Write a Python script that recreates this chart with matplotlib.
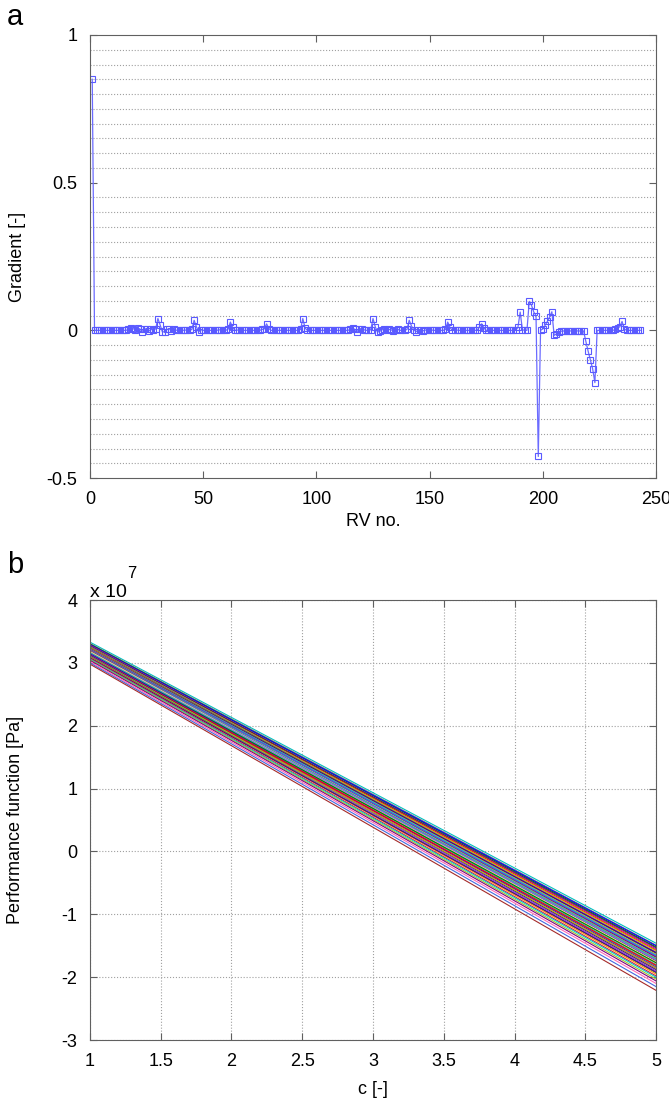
import matplotlib.pyplot as plt
from matplotlib.ticker import MultipleLocator

plt.rcParams['font.family'] = ['Liberation Sans', 'DejaVu Sans']
plt.rcParams['axes.unicode_minus'] = False

# panel a: gradient per random variable
gradient = [
    0.85, 0.0, 0.0, 0.0, 0.0, 0.0, 0.0, 0.0, 0.0, 0.0,
    0.0, 0.0, 0.0, 0.0, 0.0, 0.0, 0.004, 0.009, 0.006, 0.002,
    0.007, 0.005, -0.004, 0.004, 0.006, -0.002, 0.003, 0.001, 0.005, 0.04,
    0.018, -0.006, -0.004, 0.003, 0.006, -0.003, 0.003, 0.0, 0.002, 0.0,
    0.0, 0.001, 0.0, 0.0, 0.003, 0.034, 0.012, -0.005, 0.002, 0.0,
    0.001, 0.0, 0.0, 0.0, 0.0, 0.0, 0.002, 0.0, 0.001, 0.0,
    0.004, 0.028, 0.01, 0.0, 0.001, 0.0, 0.0, 0.0, 0.0, 0.0,
    0.0, 0.0, 0.0, 0.0, 0.0, 0.003, 0.005, 0.022, 0.006, 0.0,
    0.0, 0.0, 0.0, 0.0, 0.0, 0.0, 0.0, 0.0, 0.0, 0.0,
    0.0, 0.0, 0.003, 0.04, 0.008, 0.0, 0.0, 0.0, 0.0, 0.0,
    0.0, 0.0, 0.0, 0.0, 0.0, 0.0, 0.0, 0.0, 0.0, 0.0,
    0.0, 0.0, 0.0, 0.0, 0.004, 0.008, 0.003, -0.004, 0.005, 0.006,
    0.002, 0.0, 0.0, 0.002, 0.04, 0.012, -0.006, -0.003, 0.002, 0.004,
    0.0, 0.003, 0.002, -0.002, 0.0, 0.003, 0.0, 0.0, 0.0, 0.003,
    0.034, 0.015, 0.002, -0.004, 0.0, 0.002, -0.002, 0.001, 0.0, 0.0,
    0.001, 0.0, 0.0, 0.0, 0.0, 0.0, 0.003, 0.028, 0.01, 0.0,
    0.0, 0.001, 0.0, 0.0, 0.0, 0.0, 0.0, 0.0, 0.0, 0.0,
    0.0, 0.012, 0.022, 0.008, 0.0, 0.0, 0.0, 0.0, 0.0, 0.0,
    0.0, 0.0, 0.0, 0.0, 0.0, 0.0, 0.0, 0.0, 0.01, 0.062,
    0.002, 0.0, 0.0, 0.098, 0.085, 0.062, 0.05, -0.427, 0.0, 0.005,
    0.017, 0.03, 0.045, 0.063, -0.017, -0.012, -0.004, -0.003, -0.002, -0.003,
    -0.002, -0.002, -0.002, -0.003, -0.002, -0.002, -0.003, -0.002, -0.037, -0.07,
    -0.1, -0.13, -0.177, 0.0, 0.0, 0.0, 0.0, 0.0, 0.0, 0.002,
    0.0, 0.003, 0.008, 0.012, 0.03, 0.005, 0.0, 0.0, 0.0, 0.0,
    0.0, 0.0, 0.0,
]
rv_no = list(range(1, len(gradient) + 1))

# panel b: performance function lines (x 1e7 Pa) at c = 1 and c = 5
c_vals = [1.0, 5.0]
g_start = [3.33, 3.31, 3.30, 3.29, 3.28, 3.27, 3.27, 3.26, 3.25, 3.25,
           3.24, 3.23, 3.23, 3.22, 3.21, 3.21, 3.20, 3.20, 3.19, 3.18,
           3.18, 3.17, 3.16, 3.16, 3.15, 3.14, 3.14, 3.13, 3.12, 3.12,
           3.11, 3.10, 3.10, 3.09, 3.08, 3.07, 3.06, 3.05, 3.04, 3.02,
           3.00, 2.98]
g_end = [-1.46, -1.49, -1.52, -1.50, -1.55, -1.57, -1.53, -1.60, -1.58, -1.62,
         -1.64, -1.61, -1.67, -1.65, -1.70, -1.68, -1.72, -1.66, -1.74, -1.71,
         -1.76, -1.78, -1.73, -1.80, -1.82, -1.77, -1.84, -1.86, -1.81, -1.88,
         -1.90, -1.85, -1.93, -1.95, -1.92, -1.98, -2.00, -2.03, -2.06, -2.10,
         -2.15, -2.21]
line_colors = ['#00bfbf', '#808080', '#008000', '#0000ff', '#bf00bf', '#ff0000',
               '#404040', '#8a2be2', '#bfbf00', '#2e8b57', '#ff8c00', '#4b0082',
               '#dc143c', '#00ced1', '#9acd32', '#800080', '#ff69b4', '#4169e1',
               '#a52a2a', '#20b2aa', '#f0e68c', '#ffa07a', '#7b68ee']

fig = plt.figure(figsize=(6.69, 11.03), dpi=100)
grid_kw = dict(color='#a0a0a0', linestyle=':', linewidth=0.8)

# ---- a ----
ax1 = fig.add_axes([0.1345, 0.5666, 0.8461, 0.4017])
ax1.plot(rv_no, gradient, color='#6b6bff', linewidth=0.9, marker='s',
         markersize=4, markerfacecolor='none', markeredgecolor='#5a5aff',
         markeredgewidth=0.8)
ax1.set_xlim(0, 250)
ax1.set_ylim(-0.5, 1)
ax1.set_yticks([-0.5, 0, 0.5, 1])
ax1.set_yticklabels(['-0.5', '0', '0.5', '1'])
ax1.yaxis.set_minor_locator(MultipleLocator(0.05))
ax1.grid(True, which='minor', axis='y', **grid_kw)
ax1.tick_params(which='minor', length=0)
ax1.set_xlabel('RV no.', fontsize=13)
ax1.set_ylabel('Gradient [-]', fontsize=13)
ax1.yaxis.set_label_coords(-0.113, 0.5)

# ---- b ----
ax2 = fig.add_axes([0.1345, 0.0571, 0.8461, 0.3989])
for i in range(len(g_start)):
    ax2.plot(c_vals, [g_start[i], g_end[i]],
             color=line_colors[i % len(line_colors)], linewidth=0.8)
ax2.set_xlim(1, 5)
ax2.set_ylim(-3, 4)
ax2.set_xticks([1, 1.5, 2, 2.5, 3, 3.5, 4, 4.5, 5])
ax2.set_xticklabels(['1', '1.5', '2', '2.5', '3', '3.5', '4', '4.5', '5'])
ax2.set_yticks(range(-3, 5))
ax2.grid(True, **grid_kw)
ax2.set_xlabel('c [-]', fontsize=13, labelpad=8)
ax2.set_ylabel('Performance function [Pa]', fontsize=13)
ax2.yaxis.set_label_coords(-0.117, 0.5)
fig.text(90 / 669, 1 - 597 / 1103, 'x 10', fontsize=14, ha='left', va='baseline')
fig.text(127 / 669, 1 - 578 / 1103, '7', fontsize=12, ha='left', va='baseline')

for ax in (ax1, ax2):
    for s in ax.spines.values():
        s.set_color('#606060')
    ax.tick_params(which='major', direction='in', length=5, top=True,
                   right=True, labelsize=13, color='#606060', pad=9)

fig.text(0.010, 1 - 25 / 1103, 'a', fontsize=21, ha='left', va='baseline')
fig.text(0.010, 1 - 573 / 1103, 'b', fontsize=21, ha='left', va='baseline')

fig.savefig('out.png', dpi=100)
